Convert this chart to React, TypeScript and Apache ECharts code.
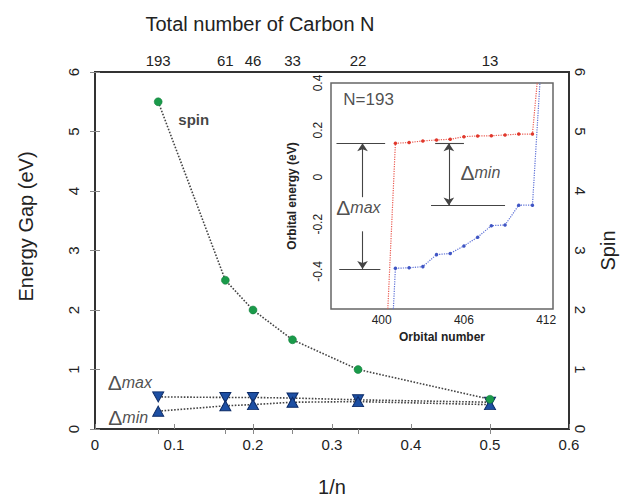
import React, { useEffect, useRef } from 'react';
import * as echarts from 'echarts';

// ---- main panel data ----
const invN = [0.08, 0.165, 0.2, 0.25, 0.333, 0.5];
const carbonN = ['193', '61', '46', '33', '22', '13'];
const spinValues = [5.5, 2.5, 2, 1.5, 1, 0.5];
const deltaMax = [0.54, 0.53, 0.53, 0.52, 0.49, 0.45];
const deltaMin = [0.3, 0.39, 0.41, 0.45, 0.46, 0.41];

// ---- inset data (N=193) ----
const orbitals = [401, 402, 403, 404, 405, 406, 407, 408, 409, 410, 411];
const alphaLevels = [0.144, 0.147, 0.154, 0.158, 0.161, 0.172, 0.175, 0.176, 0.179, 0.183, 0.183];
const betaLevels = [-0.387, -0.385, -0.38, -0.329, -0.324, -0.292, -0.255, -0.206, -0.203, -0.119, -0.119];
const alphaTails = [[400.4, -0.62], [411.5, 0.5]];
const betaTails = [[400.8, -0.62], [411.65, 0.5]];
const insetXTicks = [398, 400, 402, 404, 406, 408, 410, 412];
const insetXLabels = [400, 406, 412];
const insetYTicks = [-0.4, -0.2, 0, 0.2, 0.4];
const gapMaxTop = 0.144;
const gapMaxBottom = -0.39;
const gapMinTop = 0.144;
const gapMinBottom = -0.12;

const FONT = 'Liberation Sans, Arial, sans-serif';
const INK = '#222';

function levelSeries(levels: number[], tails: number[][]) {
  const pts: any[] = [{ value: tails[0], symbol: 'none' }];
  orbitals.forEach((o, i) => pts.push({ value: [o, levels[i]] }));
  pts.push({ value: tails[1], symbol: 'none' });
  return pts;
}

export default function App() {
  const ref = useRef<HTMLDivElement>(null);
  useEffect(() => {
    if (!ref.current) return;
    const chart = echarts.init(ref.current, undefined, { renderer: 'svg' });
    const deltaRich = {
      d: { fontSize: 21, fontFamily: FONT, color: INK },
      m: { fontSize: 16, fontFamily: FONT, fontStyle: 'italic', color: INK },
    };
    const option: any = {
      animation: false,
      backgroundColor: '#fff',
      textStyle: { fontFamily: FONT },
      grid: [
        { left: 95, right: 61, top: 72, bottom: 70, show: true, borderColor: '#333', borderWidth: 2, backgroundColor: 'transparent' },
        {
          left: 331, top: 83, width: 222, height: 226, show: true,
          backgroundColor: '#fff', borderColor: '#666', borderWidth: 1.5, z: 5,
        },
      ],
      xAxis: [
        {
          type: 'value', gridIndex: 0, position: 'bottom', min: 0, max: 0.6, interval: 0.1,
          axisLine: { show: false },
          axisTick: { show: true, inside: true, length: 5, lineStyle: { color: '#888' } },
          axisLabel: { fontSize: 15, color: INK, margin: 8, fontFamily: FONT },
          splitLine: { show: false },
          name: '1/n', nameLocation: 'middle', nameGap: 48,
          nameTextStyle: { fontSize: 20, color: INK, fontFamily: FONT },
        },
        {
          type: 'value', gridIndex: 0, position: 'top', min: 0, max: 0.6,
          axisLine: { show: false },
          axisTick: { show: true, inside: true, length: 5, customValues: invN, lineStyle: { color: '#888' } },
          axisLabel: {
            fontSize: 15, color: INK, margin: 4, fontFamily: FONT, customValues: invN,
            formatter: (v: number) => {
              const i = invN.findIndex((x) => Math.abs(x - v) < 1e-6);
              return i >= 0 ? carbonN[i] : '';
            },
          },
          splitLine: { show: false },
          name: 'Total number of Carbon N', nameLocation: 'middle', nameGap: 38,
          nameTextStyle: { fontSize: 20, color: INK, fontFamily: FONT, padding: [0, 144, 0, 0] },
        },
        {
          type: 'value', gridIndex: 1, min: 396.3, max: 412.5,
          axisLine: { show: false },
          axisTick: { show: true, inside: true, length: 5, customValues: insetXTicks, lineStyle: { color: '#555' } },
          axisLabel: { fontSize: 12, color: INK, margin: 5, customValues: insetXLabels, fontFamily: FONT },
          splitLine: { show: false },
          name: 'Orbital number', nameLocation: 'middle', nameGap: 22,
          nameTextStyle: { fontSize: 12, fontWeight: 'bold', color: INK, fontFamily: FONT },
        },
      ],
      yAxis: [
        {
          type: 'value', gridIndex: 0, position: 'left', min: 0, max: 6, interval: 1,
          axisLine: { show: false },
          axisTick: { show: true, inside: true, length: 5, lineStyle: { color: '#888' } },
          axisLabel: { fontSize: 15, color: INK, rotate: 90, margin: 14, fontFamily: FONT },
          splitLine: { show: false },
          name: 'Energy Gap (eV)', nameLocation: 'middle', nameGap: 59,
          nameTextStyle: { fontSize: 20, color: INK, fontFamily: FONT, padding: [0, 0, 0, 48] },
        },
        {
          type: 'value', gridIndex: 0, position: 'right', min: 0, max: 6, interval: 1,
          axisLine: { show: false },
          axisTick: { show: true, inside: true, length: 5, lineStyle: { color: '#888' } },
          axisLabel: { fontSize: 15, color: INK, rotate: -90, margin: 4, fontFamily: FONT },
          splitLine: { show: false },
          name: 'Spin', nameLocation: 'middle', nameGap: 29,
          nameTextStyle: { fontSize: 20, color: INK, fontFamily: FONT },
        },
        {
          type: 'value', gridIndex: 1, min: -0.56, max: 0.4,
          axisLine: { show: false },
          axisTick: { show: true, inside: true, length: 5, customValues: insetYTicks, lineStyle: { color: '#555' } },
          axisLabel: { fontSize: 12, color: INK, rotate: 90, margin: 7, customValues: insetYTicks, fontFamily: FONT },
          splitLine: { show: false },
          name: 'Orbital energy (eV)', nameLocation: 'middle', nameGap: 33,
          nameTextStyle: { fontSize: 12, fontWeight: 'bold', color: INK, fontFamily: FONT },
        },
      ],
      series: [
        {
          name: 'Δmax', type: 'line', xAxisIndex: 0, yAxisIndex: 0,
          data: invN.map((x, i) => [x, deltaMax[i]]),
          symbol: 'triangle', symbolRotate: 180, symbolSize: [11, 10],
          itemStyle: { color: '#1d4fa3', borderColor: '#0b2a66', borderWidth: 1 },
          lineStyle: { color: '#444', width: 1.6, type: 'dotted' }, z: 3,
        },
        {
          name: 'Δmin', type: 'line', xAxisIndex: 0, yAxisIndex: 0,
          data: invN.map((x, i) => [x, deltaMin[i]]),
          symbol: 'triangle', symbolSize: [11, 10],
          itemStyle: { color: '#1d4fa3', borderColor: '#0b2a66', borderWidth: 1 },
          lineStyle: { color: '#444', width: 1.6, type: 'dotted' }, z: 3,
        },
        {
          name: 'spin', type: 'line', xAxisIndex: 0, yAxisIndex: 1,
          data: invN.map((x, i) => [x, spinValues[i]]),
          symbol: 'circle', symbolSize: 8,
          itemStyle: { color: '#1a9a4a', borderColor: '#0f7a36', borderWidth: 0.5 },
          lineStyle: { color: '#444', width: 1.6, type: 'dotted' }, z: 4,
        },
        {
          name: 'main labels', type: 'scatter', xAxisIndex: 0, yAxisIndex: 0, symbolSize: 0, silent: true,
          data: [
            { value: [0.125, 5.2], label: { formatter: 'spin', fontSize: 15, fontWeight: 'bold', color: '#111' } },
            { value: [0.044, 0.78], label: { formatter: '{d|Δ}{m|max}', rich: deltaRich } },
            { value: [0.042, 0.2], label: { formatter: '{d|Δ}{m|min}', rich: deltaRich } },
          ],
          label: { show: true, position: 'inside', fontFamily: FONT },
          z: 4,
        },
        {
          name: 'alpha', type: 'line', xAxisIndex: 2, yAxisIndex: 2,
          data: levelSeries(alphaLevels, alphaTails),
          symbol: 'circle', symbolSize: 3.5, clip: true,
          itemStyle: { color: '#e0382c' },
          lineStyle: { color: '#ea5a50', width: 1.2, type: 'dotted' }, z: 6,
          markLine: {
            silent: true, symbol: 'none', symbolSize: 8,
            lineStyle: { color: '#444', width: 1.1, type: 'solid' },
            label: { show: false },
            data: [
              [{ coord: [396.7, gapMaxTop] }, { coord: [400.25, gapMaxTop] }],
              [{ coord: [396.9, gapMaxBottom] }, { coord: [399.9, gapMaxBottom] }],
              [{ coord: [403.9, gapMinTop] }, { coord: [406.0, gapMinTop] }],
              [{ coord: [403.6, gapMinBottom] }, { coord: [409.0, gapMinBottom] }],
              [{ coord: [398.6, -0.085], symbol: 'none' }, { coord: [398.6, gapMaxTop], symbol: 'arrow' }],
              [{ coord: [398.6, -0.23], symbol: 'none' }, { coord: [398.6, gapMaxBottom], symbol: 'arrow' }],
              [{ coord: [404.9, gapMinBottom], symbol: 'arrow' }, { coord: [404.9, gapMinTop], symbol: 'arrow' }],
            ],
          },
        },
        {
          name: 'beta', type: 'line', xAxisIndex: 2, yAxisIndex: 2,
          data: levelSeries(betaLevels, betaTails),
          symbol: 'circle', symbolSize: 3.5, clip: true,
          itemStyle: { color: '#3f55c4' },
          lineStyle: { color: '#5b6fd6', width: 1.2, type: 'dotted' }, z: 6,
        },
        {
          name: 'inset labels', type: 'scatter', xAxisIndex: 2, yAxisIndex: 2, symbolSize: 0, silent: true,
          data: [
            { value: [397.2, 0.33], label: { formatter: 'N=193', position: 'right', distance: 0, fontSize: 17, color: INK } },
            { value: [398.3, -0.13], label: { formatter: '{d|Δ}{m|max}', rich: deltaRich, position: 'inside' } },
            { value: [407.2, 0.02], label: { formatter: '{d|Δ}{m|min}', rich: deltaRich, position: 'inside' } },
          ],
          label: { show: true, fontFamily: FONT },
          z: 7,
        },
      ],
    };
    chart.setOption(option);
    return () => chart.dispose();
  }, []);
  return (
    <div
      ref={ref}
      style={{ position: 'fixed', left: 0, top: 0, width: 630, height: 502, background: '#fff' }}
    />
  );
}
